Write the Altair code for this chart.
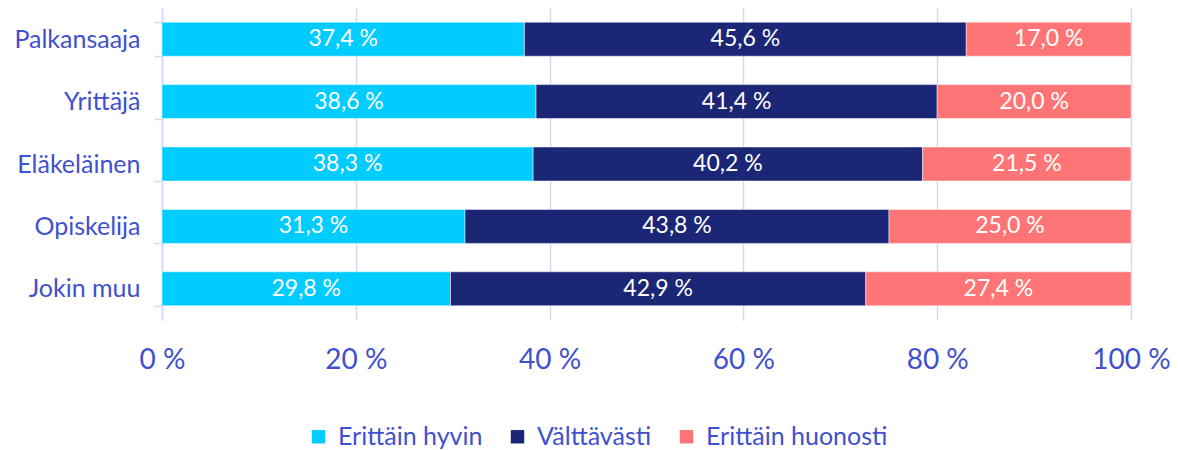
import altair as alt
import pandas as pd

categories = ["Palkansaaja", "Yrittäjä", "Eläkeläinen", "Opiskelija", "Jokin muu"]
series = ["Erittäin hyvin", "Välttävästi", "Erittäin huonosti"]
erittain_hyvin = [37.4, 38.6, 38.3, 31.3, 29.8]
valttavasti = [45.6, 41.4, 40.2, 43.8, 42.9]
erittain_huonosti = [17.0, 20.0, 21.5, 25.0, 27.4]
colors = ["#00CCFF", "#1B2677", "#FF7575"]
x_ticks = [0, 0.2, 0.4, 0.6, 0.8, 1.0]

rows = []
for s_i, (name, vals) in enumerate(zip(series, [erittain_hyvin, valttavasti, erittain_huonosti])):
    for c, v in zip(categories, vals):
        rows.append({"cat": c, "series": name, "order": s_i, "v": v})
df = pd.DataFrame(rows)

FONT = "Lato"
TXT = "#3F51CF"
GRID = "#D3D9F3"

base = alt.Chart(df).transform_stack(
    stack="v", groupby=["cat"], as_=["v1", "v2"], offset="normalize",
    sort=[alt.SortField("order", order="ascending")]
).transform_calculate(
    mid="(datum.v1 + datum.v2) / 2",
    lbl="replace(format(datum.v, '.1f'), '.', ',') + ' %'"
)

y_enc = alt.Y("cat:N", sort=categories, title=None,
              scale=alt.Scale(paddingInner=0.455, paddingOuter=0.2275),
              axis=alt.Axis(labelFont=FONT, labelFontSize=25, labelColor=TXT,
                            labelPadding=14, tickSize=8, tickColor=GRID, tickWidth=1.5,
                            domainColor=GRID, domainWidth=1.5, tickBand="extent", grid=False))

bars = base.mark_bar(stroke="white", strokeWidth=0.5).encode(
    x=alt.X("v1:Q", title=None, scale=alt.Scale(domain=[0, 1], nice=False),
            axis=alt.Axis(values=x_ticks, labelExpr="round(datum.value*100) + ' %'",
                          labelFont=FONT, labelFontSize=28, labelColor=TXT,
                          labelBaseline="middle", labelPadding=40, ticks=False,
                          labelFlush=False, labelOverlap=False,
                          domain=False, grid=True, gridColor=GRID, gridWidth=1.5)),
    x2="v2:Q",
    y=y_enc,
    color=alt.Color("series:N", sort=series,
                    scale=alt.Scale(domain=series, range=colors),
                    legend=alt.Legend(title=None, orient="none", direction="horizontal",
                                      legendX=144, legendY=416, symbolType="square",
                                      symbolSize=180, symbolStrokeWidth=0,
                                      labelFont=FONT, labelFontSize=25, labelColor=TXT,
                                      columnPadding=22, labelOffset=7, labelLimit=300)),
    order=alt.Order("order:Q")
)

texts = base.mark_text(color="white", font=FONT, fontSize=23, align="center",
                       baseline="middle").encode(
    x=alt.X("mid:Q"),
    y=alt.Y("cat:N", sort=categories),
    text="lbl:N"
)

chart = alt.layer(bars, texts).properties(
    width=969, height=312,
    autosize=alt.AutoSizeParams(type="none"),
    padding={"left": 154, "top": 0, "right": 39, "bottom": 130}
).configure_view(stroke=None)

chart.save("out.html", embed_options={"renderer": "svg", "actions": False})
